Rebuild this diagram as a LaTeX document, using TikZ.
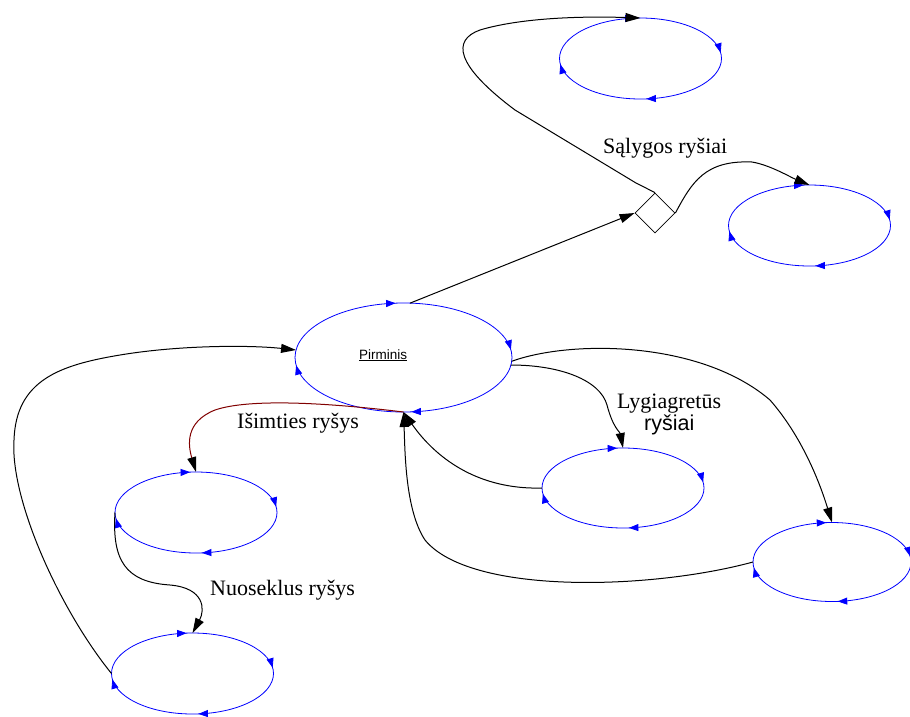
\documentclass[tikz,border=0pt]{standalone}
\usepackage{fontspec}
\setmainfont{Liberation Serif}
\setsansfont{Liberation Sans}
\usetikzlibrary{shapes.geometric,arrows.meta,decorations.markings}
\definecolor{exred}{RGB}{128,0,0}
\begin{document}
\begin{tikzpicture}[x=1pt,y=-1pt,
  % a process: blue ellipse with four small clockwise arrows
  cycle/.style={draw=blue, line width=0.8pt, ellipse, inner sep=0pt, outer sep=0pt,
    minimum width=162pt, minimum height=81pt,
    postaction={decorate, decoration={markings,
      mark=at position 0.015 with {\arrowreversed{Triangle[length=9.5pt,width=7pt]}},
      mark=at position 0.265 with {\arrowreversed{Triangle[length=9.5pt,width=7pt]}},
      mark=at position 0.515 with {\arrowreversed{Triangle[length=9.5pt,width=7pt]}},
      mark=at position 0.765 with {\arrowreversed{Triangle[length=9.5pt,width=7pt]}}}}},
  link/.style={draw=black, line width=1pt, -{Triangle[length=15pt,width=9pt]}},
  exlink/.style={draw=exred, line width=1pt, -{Triangle[length=15pt,width=9pt,color=black,fill=black]}},
  lbl/.style={font=\fontsize{22}{24}\selectfont, inner sep=0pt, anchor=base west},
]
\useasboundingbox (0,0) rectangle (910,716);

% processes
\node[cycle] (eTop) at (640.5,58.5) {};
\node[cycle] (eRU) at (809.5,225.5) {};
\node[cycle, minimum width=217pt, minimum height=109pt] (pir) at (403.5,357.5) {};
\node[cycle, minimum height=80pt] (eLyg) at (623,488) {};
\node[cycle, minimum width=158pt, minimum height=79pt] (eRL) at (832,562) {};
\node[cycle] (eMid) at (196,512.5) {};
\node[cycle] (eBot) at (192.5,673.5) {};

% condition gate
\node[draw, diamond, minimum size=40pt, inner sep=0pt, line width=0.8pt] (gate) at (655,213) {};

% labels
\node[font=\sffamily\fontsize{13.5}{15}\selectfont, inner sep=0pt, anchor=base west] (pirtxt) at (359,359) {\underline{Pirminis}};
\node[lbl] (sal) at (603,153) {Sąlygos ryšiai};
\node[lbl] (isim) at (237,428) {Išimties ryšys};
\node[lbl] (lyg1) at (617,408) {Lygiagretūs};
\node[lbl, font=\sffamily\fontsize{21.5}{23}\selectfont] (lyg2) at (644,430) {ryšiai};
\node[lbl] (nuo) at (210,595) {Nuoseklus ryšys};

% condition links
\draw[link] (pir.83) -- (gate.west);
\draw[link] (gate.north) -- (636,183) -- (515,110)
  .. controls (455,65) and (452,40) .. (480,30)
  .. controls (520,18) and (580,16) .. (eTop.north);
\draw[link] (gate.east) .. controls (692,182) and (705,160) .. (752,162)
  .. controls (770,165) and (790,177) .. (eRU.north);

% parallel links
\draw[link] (pir.-4) .. controls (560,365) and (600,380) .. (607,405)
  .. controls (613,428) and (620,432) .. (eLyg.north);
\draw[link] (pir.-2) .. controls (570,340) and (700,340) .. (770,400)
  .. controls (805,440) and (822,490) .. (eRL.north);
\draw[link] (eLyg.west) .. controls (470,490) and (430,450) .. (pir.south);
\draw[link] (eRL.west) .. controls (650,590) and (470,595) .. (425,540)
  .. controls (405,510) and (405,450) .. (pir.south);

% exception link
\draw[exlink] (pir.south) .. controls (330,403) and (250,398) .. (215,410)
  .. controls (185,422) and (188,445) .. (eMid.north);

% sequential links
\draw[link] (eMid.west) .. controls (112,560) and (125,582) .. (170,585)
  .. controls (205,588) and (205,610) .. (eBot.north);
\draw[link] (eBot.west) .. controls (60,610) and (10,500) .. (14,440)
  .. controls (16,380) and (60,365) .. (120,355)
  .. controls (180,345) and (250,345) .. (pir.176);
\end{tikzpicture}
\end{document}
